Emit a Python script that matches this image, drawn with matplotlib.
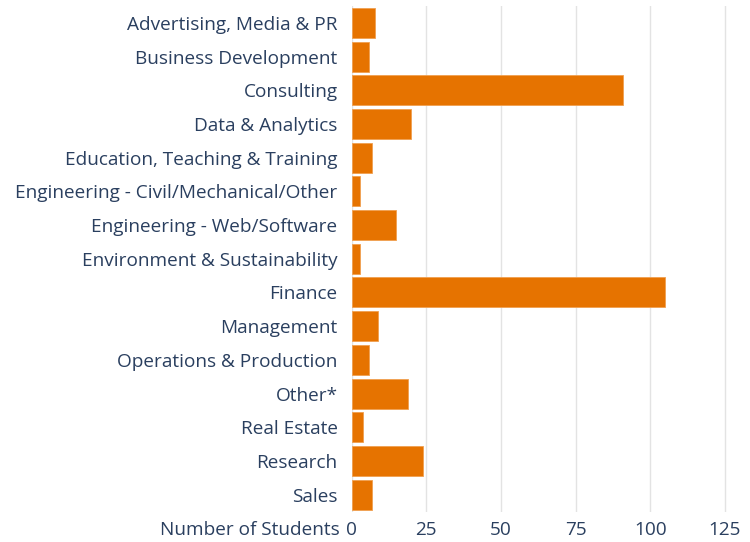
import matplotlib.pyplot as plt
import numpy as np

plt.rcParams['font.family'] = ['Open Sans', 'DejaVu Sans']

categories = ['Advertising, Media & PR', 'Business Development', 'Consulting',
              'Data & Analytics', 'Education, Teaching & Training',
              'Engineering - Civil/Mechanical/Other', 'Engineering - Web/Software',
              'Environment & Sustainability', 'Finance', 'Management',
              'Operations & Production', 'Other*', 'Real Estate', 'Research', 'Sales']
students = [8, 6, 91, 20, 7, 3, 15, 3, 105, 9, 6, 19, 4, 24, 7]
xticks = [0, 25, 50, 75, 100, 125]

text_col = '#2a3f5f'
bar_col = '#e67300'
fs = 13.7

fig = plt.figure(figsize=(7.5, 5.42), dpi=100)
ax = fig.add_axes([351.5 / 750, 30.5 / 542, (743 - 351.5) / 750, (536 - 30.5) / 542])

y = np.arange(len(categories))
ax.barh(y, students, height=0.89, color=bar_col, edgecolor='#f0a050', linewidth=0.6, zorder=3)

ax.set_ylim(len(categories) - 0.5, -0.5)
ax.set_xlim(0, 131)
ax.set_yticks(y)
ax.set_yticklabels(categories)
ax.set_xticks(xticks)
ax.tick_params(length=0, labelsize=fs, labelcolor=text_col)
ax.tick_params(axis='y', pad=10)
ax.tick_params(axis='x', pad=6.5)
ax.grid(axis='x', color='#e3e3e3', linewidth=1, zorder=0)
for s in ax.spines.values():
    s.set_visible(False)

ax.text(-0.029, -0.037, 'Number of Students', transform=ax.transAxes,
        ha='right', va='center', fontsize=fs, color=text_col)

fig.savefig('out.png', dpi=100)
